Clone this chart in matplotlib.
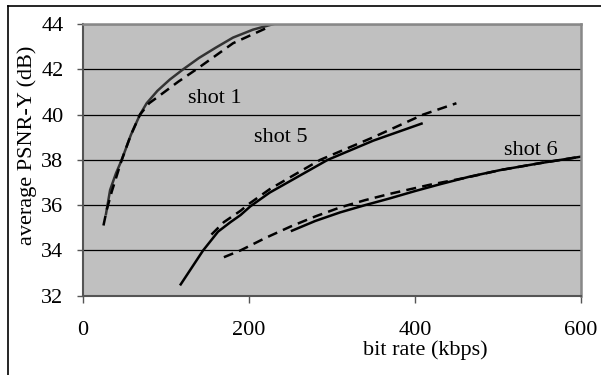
import matplotlib
matplotlib.use("Agg")
import matplotlib.pyplot as plt
from matplotlib.lines import Line2D

plt.rcParams['font.family'] = ['Liberation Serif', 'DejaVu Serif']

# shot 1
s1_x = [28, 33, 40, 47, 58, 69, 77, 90, 105, 121, 140, 160, 181, 205, 230]
s1_y = [35.6, 36.67, 37.4, 38.0, 39.1, 40.0, 40.5, 41.05, 41.55, 42.0, 42.5, 42.95, 43.4, 43.75, 44.0]
s1d_x = [25, 29, 35, 47, 58, 69, 80, 93, 115, 137, 160, 181, 205, 226]
s1d_y = [35.1, 35.8, 36.6, 38.0, 39.1, 40.0, 40.5, 40.85, 41.45, 42.0, 42.6, 43.15, 43.55, 43.9]

# shot 5
s5_x = [118, 145, 163, 178, 190, 202, 225, 254, 295, 350, 408]
s5_y = [32.5, 34.0, 34.83, 35.25, 35.56, 35.95, 36.55, 37.15, 38.0, 38.85, 39.6]
s5d_x = [155, 170, 190, 200, 225, 253, 286, 350, 410, 450]
s5d_y = [34.7, 35.25, 35.75, 36.05, 36.7, 37.3, 38.0, 39.0, 40.0, 40.5]

# shot 6
s6_x = [252, 280, 310, 340, 370, 400, 430, 465, 503, 550, 600]
s6_y = [34.87, 35.3, 35.68, 36.0, 36.3, 36.62, 36.92, 37.25, 37.55, 37.85, 38.14]
s6d_x = [170, 190, 220, 250, 280, 310, 340, 370, 418, 460, 503, 550, 600]
s6d_y = [33.7, 34.0, 34.55, 35.05, 35.5, 35.9, 36.22, 36.5, 36.9, 37.2, 37.55, 37.85, 38.14]

xticks = [0, 200, 400, 600]
yticks = [32, 34, 36, 38, 40, 42, 44]

W, H = 601, 375
fs = 16
fig = plt.figure(figsize=(W / 100, H / 100), dpi=100)
ax = fig.add_axes([82.7 / W, 1 - 295.7 / H, (581 - 82.7) / W, (295.7 - 24) / H])
ax.set_facecolor('#c0c0c0')

dash = (0, (4, 2.5))
ax.plot(s1_x, s1_y, color='#333333', lw=1.8)
ax.plot(s1d_x, s1d_y, color='black', lw=1.8, linestyle=dash)
ax.plot(s5_x, s5_y, color='black', lw=1.8)
ax.plot(s5d_x, s5d_y, color='black', lw=1.8, linestyle=dash)
ax.plot(s6_x, s6_y, color='black', lw=1.8)
ax.plot(s6d_x, s6d_y, color='black', lw=1.8, linestyle=dash)

ax.set_xlim(0, 600)
ax.set_ylim(32, 44)
ax.set_xticks(xticks)
ax.set_yticks(yticks)
ax.yaxis.grid(True, color='black', lw=0.9)
ax.set_axisbelow(True)
ax.tick_params(axis='x', direction='out', length=5, width=1, color='#555555',
               pad=13.5, labelsize=fs)
ax.tick_params(axis='y', direction='out', length=4.3, width=1, color='#555555',
               pad=9.5, labelsize=fs)
for side in ['left', 'bottom']:
    ax.spines[side].set_color('#555555')
    ax.spines[side].set_linewidth(1.5)
for side in ['top', 'right']:
    ax.spines[side].set_color('#888888')
    ax.spines[side].set_linewidth(1.8)

ax.text(159, 40.5, 'shot 1', fontsize=fs, ha='center', va='baseline')
ax.text(239, 38.8, 'shot 5', fontsize=fs, ha='center', va='baseline')
ax.text(539, 38.21, 'shot 6', fontsize=fs, ha='center', va='baseline')

fig.text(425 / W, 1 - 355 / H, 'bit rate (kbps)', fontsize=fs, ha='center', va='baseline')
fig.text(27.5 / W, 1 - 145 / H, 'average PSNR-Y (dB)', fontsize=fs, ha='center',
         va='center', rotation=90)

# outer frame (left and top edges)
fig.add_artist(Line2D([8.3 / W, 8.3 / W], [0, 1 - 5.5 / H], color='black', lw=1.2))
fig.add_artist(Line2D([8.3 / W, 1], [1 - 5.5 / H, 1 - 5.5 / H], color='black', lw=1.2))

fig.savefig('out.png', dpi=100)
